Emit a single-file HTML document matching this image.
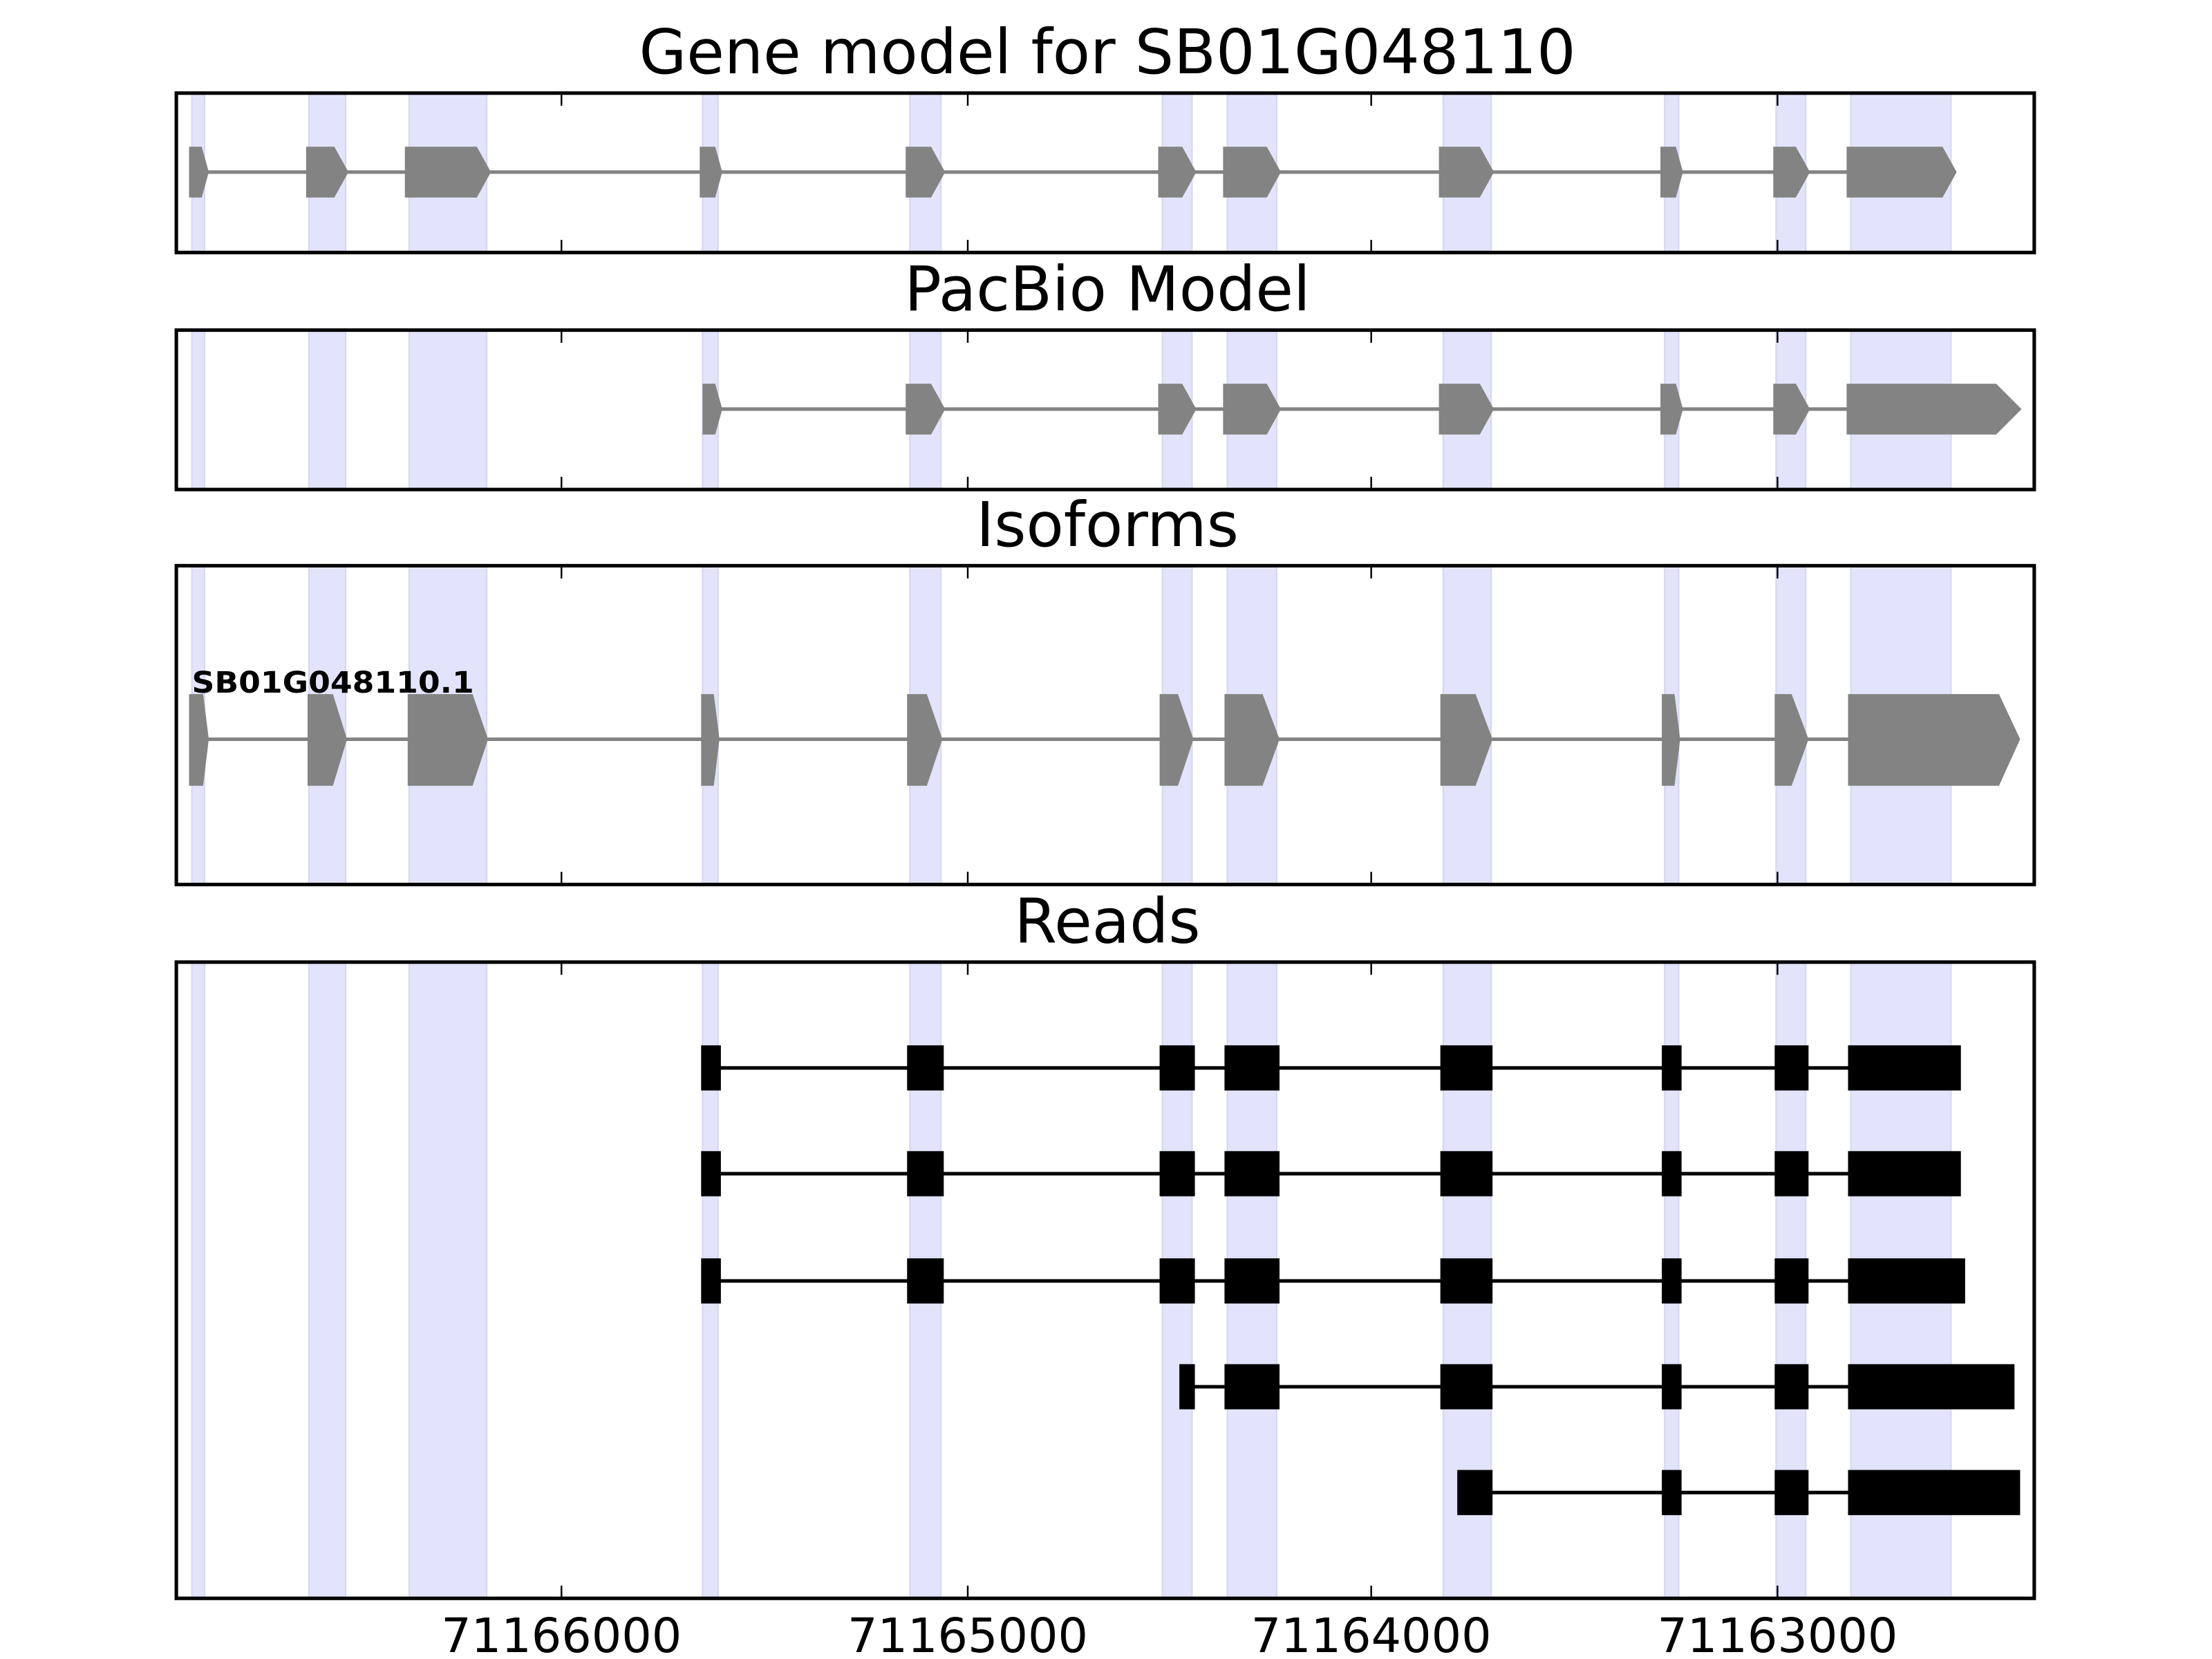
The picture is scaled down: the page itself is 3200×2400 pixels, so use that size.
<!DOCTYPE html>
<html><head><meta charset="utf-8"><style>html,body{margin:0;padding:0;background:#fff}svg{display:block}</style></head>
<body>
<svg width="3200" height="2400" viewBox="0 0 1568 1176" xmlns="http://www.w3.org/2000/svg" font-family="'DejaVu Sans','Liberation Sans',sans-serif">
<rect width="1568" height="1176" fill="#fff"/>

<g fill="#e3e3fc" stroke="#d6d6f0" stroke-width="1">
<g transform="translate(0,66)">
<rect x="136" y="0" width="9" height="113"/><rect x="219" y="0" width="26" height="113"/><rect x="290" y="0" width="55" height="113"/><rect x="498" y="0" width="11" height="113"/><rect x="645" y="0" width="22" height="113"/><rect x="824" y="0" width="21" height="113"/><rect x="870" y="0" width="35" height="113"/><rect x="1023" y="0" width="34" height="113"/><rect x="1180" y="0" width="10" height="113"/><rect x="1259" y="0" width="21" height="113"/><rect x="1312" y="0" width="71" height="113"/>
</g>
<g transform="translate(0,234)">
<rect x="136" y="0" width="9" height="113"/><rect x="219" y="0" width="26" height="113"/><rect x="290" y="0" width="55" height="113"/><rect x="498" y="0" width="11" height="113"/><rect x="645" y="0" width="22" height="113"/><rect x="824" y="0" width="21" height="113"/><rect x="870" y="0" width="35" height="113"/><rect x="1023" y="0" width="34" height="113"/><rect x="1180" y="0" width="10" height="113"/><rect x="1259" y="0" width="21" height="113"/><rect x="1312" y="0" width="71" height="113"/>
</g>
<g transform="translate(0,401)">
<rect x="136" y="0" width="9" height="226"/><rect x="219" y="0" width="26" height="226"/><rect x="290" y="0" width="55" height="226"/><rect x="498" y="0" width="11" height="226"/><rect x="645" y="0" width="22" height="226"/><rect x="824" y="0" width="21" height="226"/><rect x="870" y="0" width="35" height="226"/><rect x="1023" y="0" width="34" height="226"/><rect x="1180" y="0" width="10" height="226"/><rect x="1259" y="0" width="21" height="226"/><rect x="1312" y="0" width="71" height="226"/>
</g>
<g transform="translate(0,682)">
<rect x="136" y="0" width="9" height="451"/><rect x="219" y="0" width="26" height="451"/><rect x="290" y="0" width="55" height="451"/><rect x="498" y="0" width="11" height="451"/><rect x="645" y="0" width="22" height="451"/><rect x="824" y="0" width="21" height="451"/><rect x="870" y="0" width="35" height="451"/><rect x="1023" y="0" width="34" height="451"/><rect x="1180" y="0" width="10" height="451"/><rect x="1259" y="0" width="21" height="451"/><rect x="1312" y="0" width="71" height="451"/>
</g>
</g>

<g fill="#838383">
<line x1="141" y1="122" x2="1380" y2="122" stroke="#838383" stroke-width="2.5"/>
<polygon points="134,104 143,104 148,122 143,140 134,140"/>
<polygon points="217,104 237,104 247,122 237,140 217,140"/>
<polygon points="287,104 338,104 348,122 338,140 287,140"/>
<polygon points="496,104 507,104 512,122 507,140 496,140"/>
<polygon points="642,104 660,104 670,122 660,140 642,140"/>
<polygon points="821,104 838,104 848,122 838,140 821,140"/>
<polygon points="867,104 898,104 908,122 898,140 867,140"/>
<polygon points="1020,104 1049,104 1059,122 1049,140 1020,140"/>
<polygon points="1177,104 1188,104 1193,122 1188,140 1177,140"/>
<polygon points="1257,104 1273,104 1283,122 1273,140 1257,140"/>
<polygon points="1309,104 1377,104 1387,122 1377,140 1309,140"/>
</g>

<g fill="#838383">
<line x1="505" y1="290" x2="1420" y2="290" stroke="#838383" stroke-width="2.5"/>
<polygon points="498,272 507,272 512,290 507,308 498,308"/>
<polygon points="642,272 660,272 670,290 660,308 642,308"/>
<polygon points="821,272 838,272 848,290 838,308 821,308"/>
<polygon points="867,272 898,272 908,290 898,308 867,308"/>
<polygon points="1020,272 1049,272 1059,290 1049,308 1020,308"/>
<polygon points="1177,272 1188,272 1193,290 1188,308 1177,308"/>
<polygon points="1257,272 1273,272 1283,290 1273,308 1257,308"/>
<polygon points="1309,272 1415,272 1433,290 1415,308 1309,308"/>
</g>

<g fill="#838383">
<line x1="141" y1="524" x2="1420" y2="524" stroke="#838383" stroke-width="2.5"/>
<polygon points="134,492 144,492 148,524 144,557 134,557"/>
<polygon points="218,492 236,492 246,524 236,557 218,557"/>
<polygon points="289,492 335,492 346,524 335,557 289,557"/>
<polygon points="497,492 506,492 510,524 506,557 497,557"/>
<polygon points="643,492 657,492 668,524 657,557 643,557"/>
<polygon points="822,492 835,492 846,524 835,557 822,557"/>
<polygon points="868,492 895,492 907,524 895,557 868,557"/>
<polygon points="1021,492 1046,492 1058,524 1046,557 1021,557"/>
<polygon points="1178,492 1187,492 1191,524 1187,557 1178,557"/>
<polygon points="1258,492 1270,492 1282,524 1270,557 1258,557"/>
<polygon points="1310,492 1417,492 1432,524 1417,557 1310,557"/>
</g>
<text x="136" y="491" font-size="21" font-weight="bold" textLength="200" lengthAdjust="spacingAndGlyphs">SB01G048110.1</text>

<g fill="#000" stroke="#000">
<g>
<line x1="504" y1="757" x2="1380" y2="757" stroke-width="2.5"/>
<rect x="497" y="741" width="14" height="32" stroke="none"/><rect x="643" y="741" width="26" height="32" stroke="none"/><rect x="822" y="741" width="25" height="32" stroke="none"/><rect x="868" y="741" width="39" height="32" stroke="none"/><rect x="1021" y="741" width="37" height="32" stroke="none"/><rect x="1178" y="741" width="14" height="32" stroke="none"/><rect x="1258" y="741" width="24" height="32" stroke="none"/><rect x="1310" y="741" width="80" height="32" stroke="none"/>
</g>
<g>
<line x1="504" y1="832" x2="1380" y2="832" stroke-width="2.5"/>
<rect x="497" y="816" width="14" height="32" stroke="none"/><rect x="643" y="816" width="26" height="32" stroke="none"/><rect x="822" y="816" width="25" height="32" stroke="none"/><rect x="868" y="816" width="39" height="32" stroke="none"/><rect x="1021" y="816" width="37" height="32" stroke="none"/><rect x="1178" y="816" width="14" height="32" stroke="none"/><rect x="1258" y="816" width="24" height="32" stroke="none"/><rect x="1310" y="816" width="80" height="32" stroke="none"/>
</g>
<g>
<line x1="504" y1="908" x2="1380" y2="908" stroke-width="2.5"/>
<rect x="497" y="892" width="14" height="32" stroke="none"/><rect x="643" y="892" width="26" height="32" stroke="none"/><rect x="822" y="892" width="25" height="32" stroke="none"/><rect x="868" y="892" width="39" height="32" stroke="none"/><rect x="1021" y="892" width="37" height="32" stroke="none"/><rect x="1178" y="892" width="14" height="32" stroke="none"/><rect x="1258" y="892" width="24" height="32" stroke="none"/><rect x="1310" y="892" width="83" height="32" stroke="none"/>
</g>
<g>
<line x1="840" y1="983" x2="1400" y2="983" stroke-width="2.5"/>
<rect x="836" y="967" width="11" height="32" stroke="none"/><rect x="868" y="967" width="39" height="32" stroke="none"/><rect x="1021" y="967" width="37" height="32" stroke="none"/><rect x="1178" y="967" width="14" height="32" stroke="none"/><rect x="1258" y="967" width="24" height="32" stroke="none"/><rect x="1310" y="967" width="118" height="32" stroke="none"/>
</g>
<g>
<line x1="1040" y1="1058" x2="1400" y2="1058" stroke-width="2.5"/>
<rect x="1033" y="1042" width="25" height="32" stroke="none"/><rect x="1178" y="1042" width="14" height="32" stroke="none"/><rect x="1258" y="1042" width="24" height="32" stroke="none"/><rect x="1310" y="1042" width="122" height="32" stroke="none"/>
</g>
</g>

<g fill="none" stroke="#000" stroke-width="2.5">
<rect x="125" y="66" width="1317" height="113"/>
<rect x="125" y="234" width="1317" height="113"/>
<rect x="125" y="401" width="1317" height="226"/>
<rect x="125" y="682" width="1317" height="451"/>
</g>
<g stroke="#000" stroke-width="1.2">
<path d="M398,66v9M686,66v9M972,66v9M1260,66v9M398,179v-9M686,179v-9M972,179v-9M1260,179v-9"/>
<path d="M398,234v9M686,234v9M972,234v9M1260,234v9M398,347v-9M686,347v-9M972,347v-9M1260,347v-9"/>
<path d="M398,401v9M686,401v9M972,401v9M1260,401v9M398,627v-9M686,627v-9M972,627v-9M1260,627v-9"/>
<path d="M398,682v9M686,682v9M972,682v9M1260,682v9M398,1133v-9M686,1133v-9M972,1133v-9M1260,1133v-9"/>
</g>

<g font-size="33.5" text-anchor="middle" fill="#000">
<text x="398" y="1171">71166000</text>
<text x="686" y="1171">71165000</text>
<text x="972" y="1171">71164000</text>
<text x="1260" y="1171">71163000</text>
</g>
<g font-size="43.5" text-anchor="middle" fill="#000">
<text x="785" y="52">Gene model for SB01G048110</text>
<text x="785" y="220">PacBio Model</text>
<text x="785" y="387">Isoforms</text>
<text x="785" y="668">Reads</text>
</g>
</svg>
</body></html>
